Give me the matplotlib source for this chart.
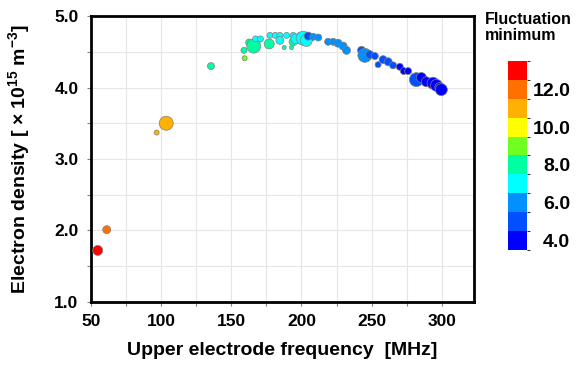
import matplotlib
matplotlib.use("Agg")
import matplotlib.pyplot as plt
import numpy as np
from matplotlib.colors import ListedColormap, BoundaryNorm
from matplotlib.ticker import MultipleLocator, FormatStrFormatter

plt.rcParams['font.family'] = ['Liberation Sans', 'DejaVu Sans']
plt.rcParams['font.weight'] = 'bold'
plt.rcParams['mathtext.default'] = 'regular'

# upper electrode frequency [MHz]
freq = [54.8, 61.2, 96.8, 103.6, 135.5, 159.5, 159.0, 162.7, 166.0, 167.3,
        170.8, 177.0, 177.5, 181.3, 184.6, 189.4, 194.1, 198.9, 184.6, 187.7,
        192.9, 194.0, 196.0, 201.2, 203.5, 204.8, 208.4, 212.0, 219.0, 222.6,
        226.1, 229.7, 232.1, 242.8, 245.2, 248.7, 252.3, 254.6, 258.2, 261.8,
        265.3, 270.1, 272.9, 276.0, 281.9, 285.5, 289.0, 293.8, 296.2, 298.6,
        299.7]
# electron density [x1e15 m^-3]
dens = [1.72, 2.01, 3.37, 3.50, 4.30, 4.41, 4.52, 4.63, 4.58, 4.68,
        4.68, 4.61, 4.73, 4.73, 4.73, 4.73, 4.73, 4.73, 4.66, 4.56,
        4.56, 4.64, 4.68, 4.69, 4.66, 4.72, 4.71, 4.70, 4.64, 4.64,
        4.62, 4.58, 4.52, 4.52, 4.45, 4.46, 4.44, 4.32, 4.39, 4.36,
        4.31, 4.29, 4.23, 4.23, 4.11, 4.14, 4.08, 4.06, 4.03, 4.00,
        3.97]
# fluctuation minimum
fluct = [13.0, 12.0, 11.0, 11.0, 8.0, 9.0, 8.0, 8.0, 8.0, 7.0,
         7.0, 8.0, 7.0, 7.0, 7.0, 7.0, 7.0, 7.0, 7.0, 8.0,
         8.0, 8.0, 7.0, 7.0, 7.0, 5.0, 6.0, 6.0, 6.0, 6.0,
         6.0, 6.0, 6.0, 5.0, 6.0, 5.0, 5.0, 5.0, 5.0, 5.0,
         5.0, 4.0, 4.0, 4.0, 5.0, 4.0, 4.0, 4.0, 4.0, 4.0,
         4.0]
# marker radius (px) as drawn
radius = [5, 4, 2.5, 7, 3.5, 2.5, 3, 3.5, 7, 3,
          3, 5, 3, 3, 3, 3, 3, 3, 4, 2,
          2, 4, 5, 7, 6, 4, 3.5, 3.5, 3.5, 3.5,
          4, 4, 4, 4, 7, 4, 3.5, 3, 4, 4,
          3.5, 3.5, 3.5, 3.5, 7, 5, 5, 6, 6, 5,
          6]

level_colors = ['#0000ff', '#0050ff', '#0090ff', '#00ffff', '#00ffa0',
                '#70ff20', '#ffff00', '#ffb000', '#ff7000', '#ff0000']
cmap = ListedColormap(level_colors)
norm = BoundaryNorm(np.arange(3.5, 14.0, 1.0), cmap.N)

fig = plt.figure(figsize=(5.76, 3.65), dpi=100)
ax = fig.add_axes([0.158, 0.173, 0.665, 0.783])

sizes = (2 * np.array(radius) * 0.72) ** 2
sc = ax.scatter(freq, dens, c=fluct, cmap=cmap, norm=norm, s=sizes,
                edgecolors='#808080', linewidths=0.5, zorder=3)

ax.set_xlim(50, 323)
ax.set_ylim(1.0, 5.0)
ax.xaxis.set_major_locator(MultipleLocator(50))
ax.xaxis.set_minor_locator(MultipleLocator(25))
ax.yaxis.set_major_locator(MultipleLocator(1.0))
ax.yaxis.set_minor_locator(MultipleLocator(0.5))
ax.yaxis.set_major_formatter(FormatStrFormatter('%.1f'))
ax.grid(True, which='both', color='#e6e6e6', linewidth=0.8, zorder=0)
ax.tick_params(which='both', direction='out', length=3, width=0.8,
               color='#808080', labelsize=12.5)
ax.tick_params(axis='x', pad=6)
ax.tick_params(axis='y', pad=6)
for sp in ax.spines.values():
    sp.set_linewidth(2)
for lbl in ax.get_xticklabels() + ax.get_yticklabels():
    lbl.set_fontweight('bold')

ax.set_xlabel('Upper electrode frequency  [MHz]', fontsize=14, fontweight='bold')
ax.set_ylabel('Electron density [ \u00d7 10$^{15}$ m$^{-3}$]', fontsize=14,
              fontweight='bold')
ax.xaxis.set_label_coords(0.5, -0.14)
ax.yaxis.set_label_coords(-0.155, 0.5)

cax = fig.add_axes([0.882, 0.315, 0.033, 0.518])
cb = fig.colorbar(sc, cax=cax, ticks=[4, 6, 8, 10, 12])
cb.outline.set_visible(False)
cb.ax.tick_params(length=0, labelsize=14, pad=3)
cb.ax.set_yticklabels(['4.0', '6.0', '8.0', '10.0', '12.0'], fontweight='bold')
for lbl in cb.ax.get_yticklabels():
    lbl.set_horizontalalignment('right')
    lbl.set_x(3.05)

fig.text(0.842, 0.967, 'Fluctuation\nminimum', fontsize=11.5, fontweight='bold',
         ha='left', va='top', linespacing=1.1)

fig.savefig('out.png', dpi=100)
